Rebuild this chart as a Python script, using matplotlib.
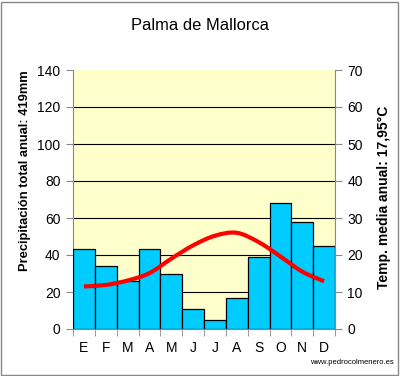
import matplotlib
matplotlib.use("Agg")
import matplotlib.pyplot as plt
import numpy as np
from matplotlib.path import Path
from matplotlib.patches import PathPatch, Rectangle

months = ["E", "F", "M", "A", "M", "J", "J", "A", "S", "O", "N", "D"]
precip = [43, 34, 26, 43, 30, 11, 5, 17, 39, 68, 58, 45]
temp = [11.5, 11.9, 13.1, 15.1, 19.0, 22.6, 25.2, 26.0, 23.5, 19.6, 15.5, 12.9]
title = "Palma de Mallorca"
ylabel_left = "Precipitación total anual: 419mm"
ylabel_right = "Temp. media anual: 17,95°C"
credit = "www.pedrocolmenero.es"

plt.rcParams['font.family'] = ['Liberation Sans', 'DejaVu Sans']

fig = plt.figure(figsize=(4.0, 3.76), dpi=100)
fig.patch.set_facecolor("white")
fig.patches.append(Rectangle((0.003, 0.003), 0.992, 0.992, transform=fig.transFigure,
                             fill=False, edgecolor="#888888", linewidth=1.0))

ax = fig.add_axes([73/400, 1-329/376, 262/400, 259/376])
ax.set_facecolor("#FFFFCC")
x = np.arange(len(months))
ax.bar(x, precip, width=1.0, color="#00CCFF", edgecolor="black", linewidth=0.9, zorder=3)
ax.set_xlim(-0.5, len(months) - 0.5)
ax.set_ylim(0, 140)
ax.set_yticks(np.arange(0, 141, 20))
for v in range(20, 140, 20):
    ax.axhline(v, color="black", linewidth=0.8, zorder=1)
ax.set_xticks(x)
ax.set_xticklabels(months)
ax.set_xticks(np.arange(-0.5, len(months), 1.0), minor=True)
ax.tick_params(axis="x", which="major", length=0, pad=9, labelsize=10)
ax.tick_params(axis="x", which="minor", length=5, direction="out", color="#888888")
ax.tick_params(axis="y", length=5, direction="out", color="#888888", labelsize=10, pad=4)
for s in ["top", "right"]:
    ax.spines[s].set_visible(False)
for s in ["left", "bottom"]:
    ax.spines[s].set_color("#888888")

ax2 = ax.twinx()
ax2.set_ylim(0, 70)
ax2.set_yticks(np.arange(0, 71, 10))
ax2.tick_params(axis="y", length=5, direction="out", color="#888888", labelsize=10, pad=4)
for s in ["top", "left", "bottom"]:
    ax2.spines[s].set_visible(False)
ax2.spines["right"].set_color("#888888")

# smoothed line (Catmull-Rom as cubic Bezier segments)
t = np.array(temp, dtype=float)
verts = [(x[0], t[0])]
codes = [Path.MOVETO]
n = len(t)
for i in range(n - 1):
    p0 = (x[max(i-1, 0)], t[max(i-1, 0)])
    p1 = (x[i], t[i])
    p2 = (x[i+1], t[i+1])
    p3 = (x[min(i+2, n-1)], t[min(i+2, n-1)])
    c1 = (p1[0] + (p2[0]-p0[0])/6, p1[1] + (p2[1]-p0[1])/6)
    c2 = (p2[0] - (p3[0]-p1[0])/6, p2[1] - (p3[1]-p1[1])/6)
    verts += [c1, c2, p2]
    codes += [Path.CURVE4]*3
ax2.add_patch(PathPatch(Path(verts, codes), fill=False, edgecolor="#FF0000",
                        linewidth=3.0, capstyle="butt", joinstyle="round", zorder=5))

fig.text(25/400, 1-171/376, ylabel_left, rotation=90, ha="center", va="center",
         rotation_mode="anchor", fontsize=9.3, fontweight="bold")
fig.text(384/400, 1-197/376, ylabel_right, rotation=90, ha="center", va="center",
         rotation_mode="anchor", fontsize=10, fontweight="bold")
fig.text(0.5, 1-25/376, title, ha="center", va="center", fontsize=11.9)
fig.text(0.985, 1-363/376, credit, ha="right", va="center", fontsize=5.5)

fig.savefig("out.png", dpi=100)
